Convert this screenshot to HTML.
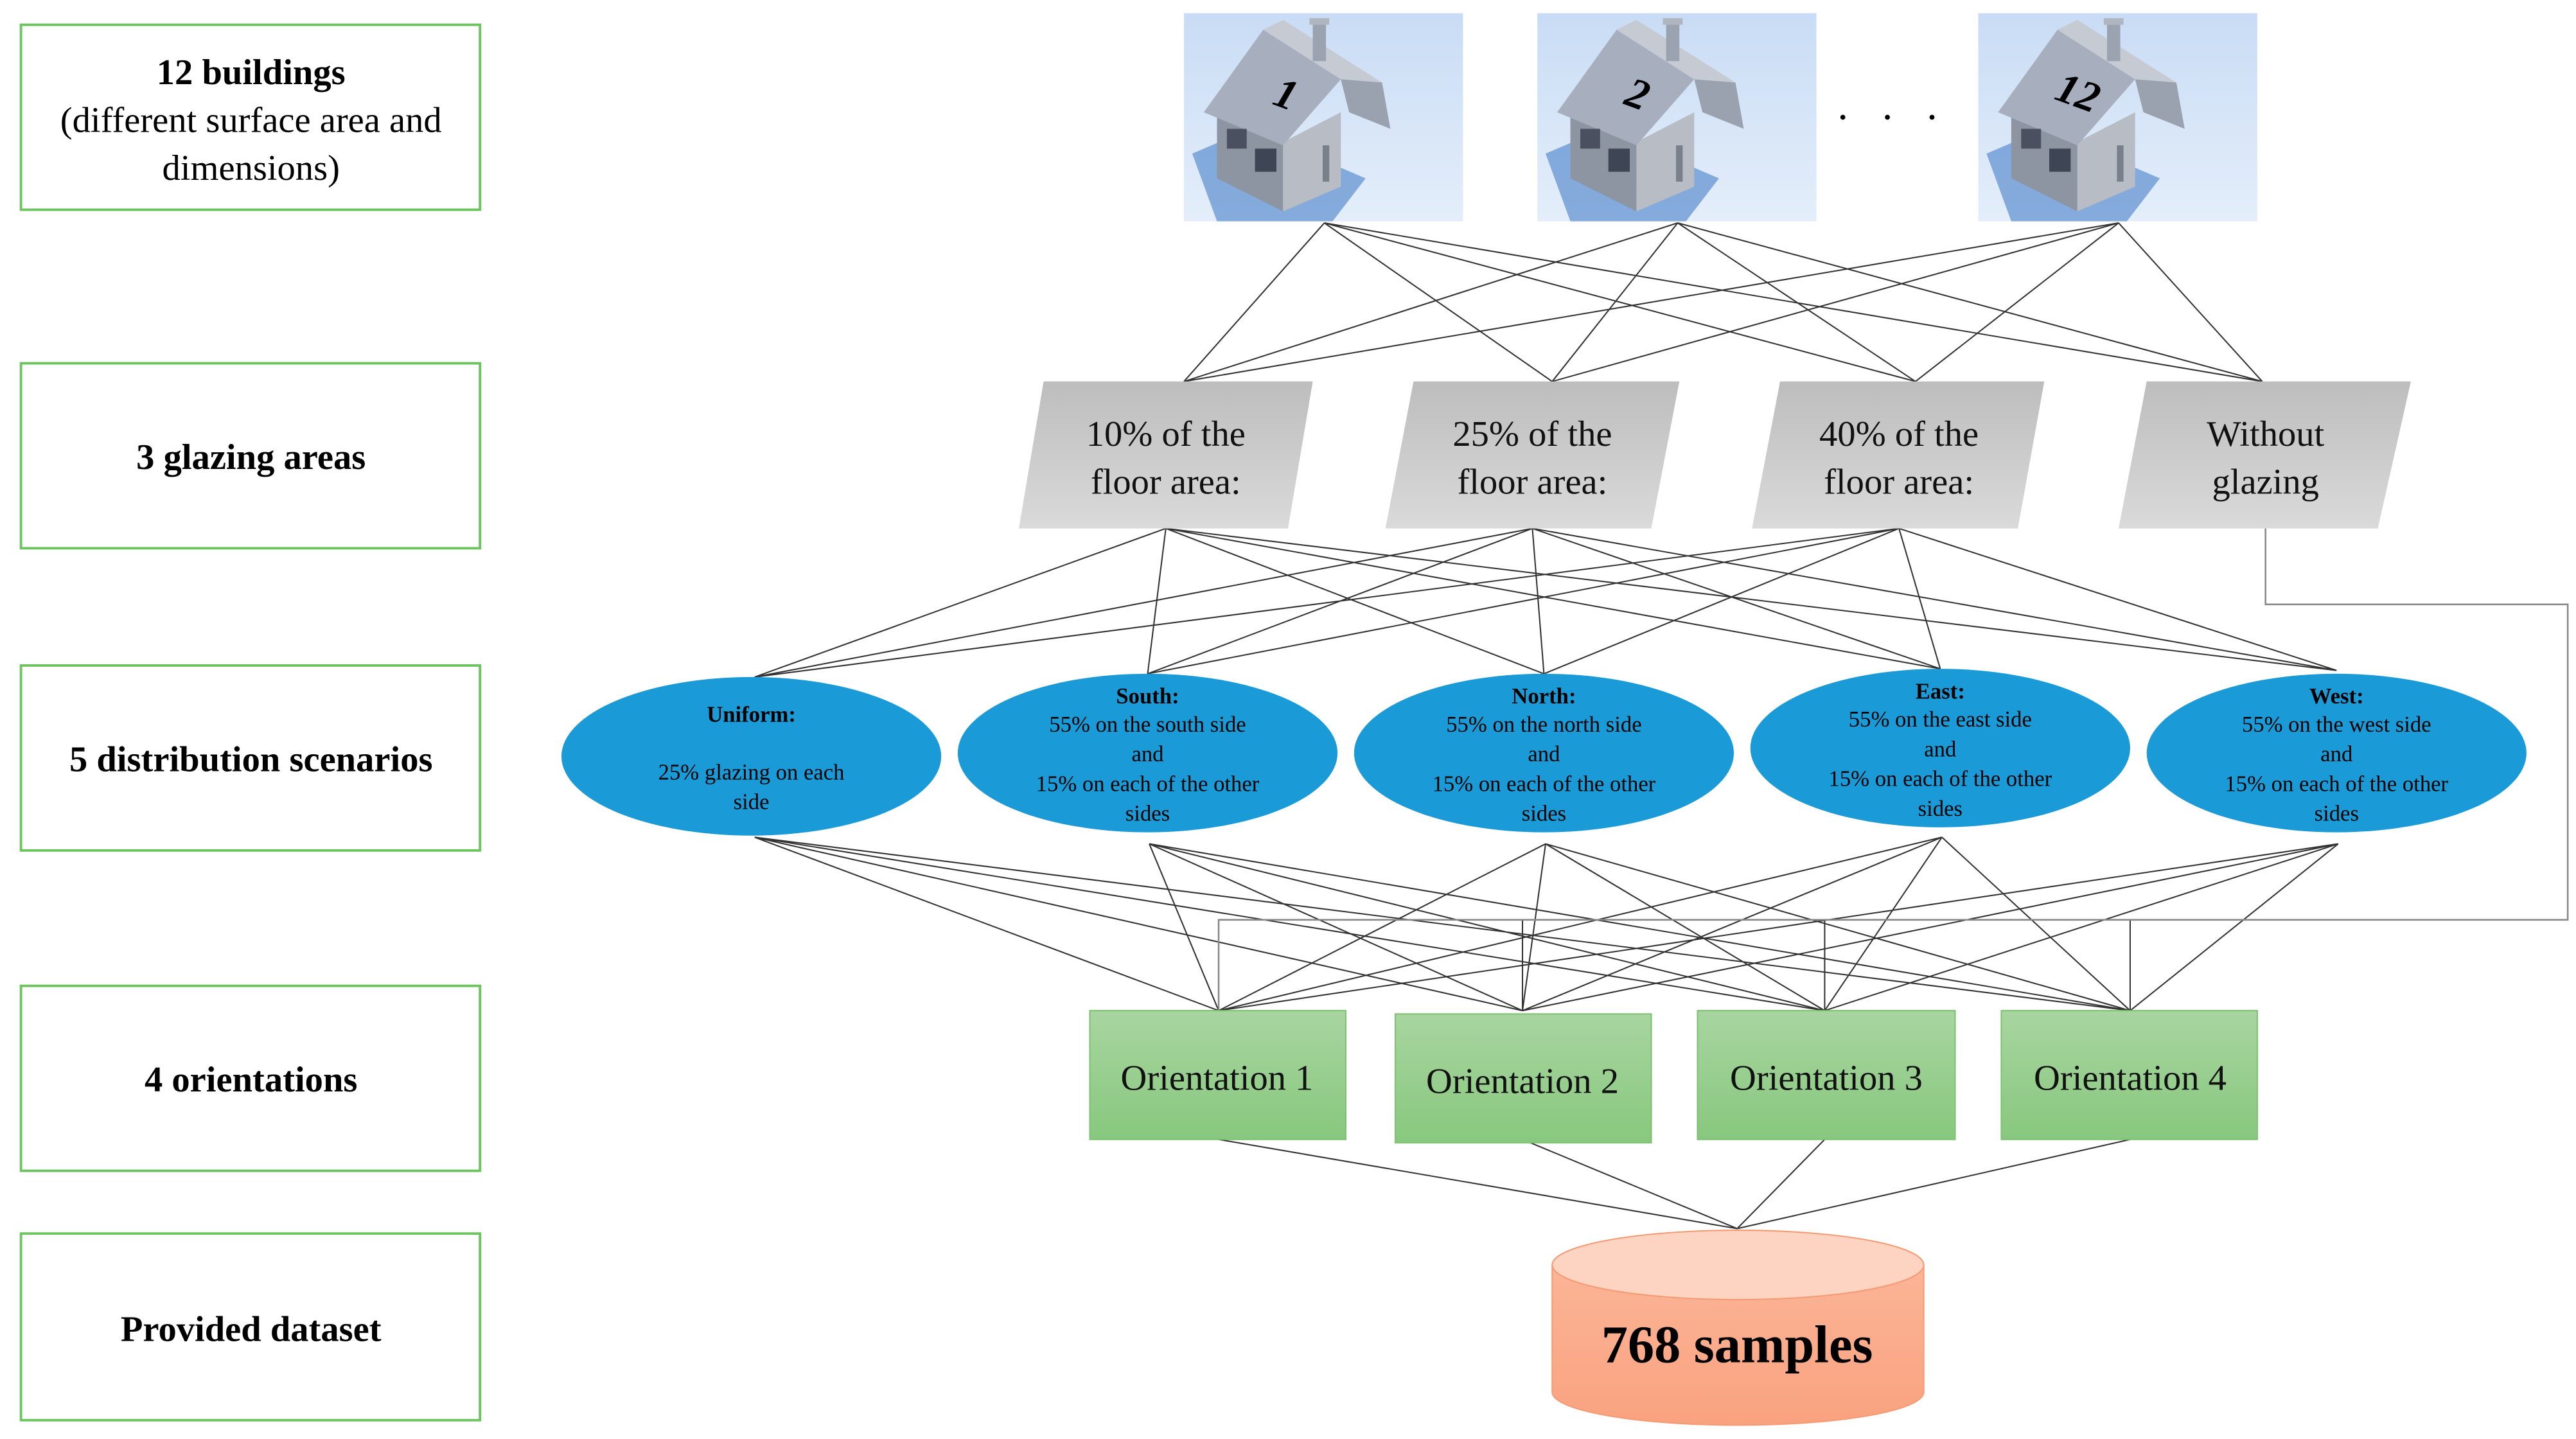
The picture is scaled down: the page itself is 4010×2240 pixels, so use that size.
<!DOCTYPE html>
<html><head><meta charset="utf-8"><style>
html,body{margin:0;padding:0;background:#fff;}
svg{display:block;}
text{font-family:"Liberation Serif",serif;}
</style></head><body>
<svg width="4010" height="2240" viewBox="0 0 1560 871.4" preserveAspectRatio="none" xmlns="http://www.w3.org/2000/svg">
<defs>
<linearGradient id="sky" x1="0" y1="0" x2="0" y2="1"><stop offset="0" stop-color="#c9dcf5"/><stop offset="1" stop-color="#e4eefa"/></linearGradient>
<linearGradient id="gray" x1="0" y1="0" x2="0" y2="1"><stop offset="0" stop-color="#bdbdbd"/><stop offset="1" stop-color="#dadada"/></linearGradient>
<linearGradient id="grn" x1="0" y1="0" x2="0" y2="1"><stop offset="0" stop-color="#a8d5a0"/><stop offset="1" stop-color="#88c87e"/></linearGradient>
<linearGradient id="cyl" x1="0" y1="0" x2="0" y2="1"><stop offset="0" stop-color="#fbb597"/><stop offset="1" stop-color="#f9a27f"/></linearGradient>
<g id="house">
<rect x="0" y="0" width="169" height="126" fill="url(#sky)"/>
<path d="M5 85 L40 70 L110 100 L90 126 L20 126 Z" fill="#5d8fd0" opacity="0.7"/>
<path d="M20 58 L20 100 L60 120 L60 78 Z" fill="#8d95a3"/>
<path d="M60 78 L60 120 L95 105 L95 60 Z" fill="#b8bcc4"/>
<path d="M12 60 L48 10 L95 40 L60 80 Z" fill="#a7afbe"/>
<path d="M48 10 L60 4 L120 42 L110 50 L95 40 Z" fill="#c5cad3"/>
<path d="M95 40 L120 42 L125 70 L100 60 Z" fill="#9aa2b0"/>
<rect x="78" y="5" width="8" height="24" fill="#9ba3b0"/>
<rect x="76" y="3" width="12" height="4" fill="#b0b6c0"/>
<rect x="26" y="70" width="12" height="12" fill="#4a5060"/>
<rect x="43" y="82" width="13" height="14" fill="#3e4555"/>
<rect x="84" y="80" width="4" height="22" fill="#7a808b"/>
</g>
</defs>

<!-- left boxes -->
<g fill="#fff" stroke="#6cc45e" stroke-width="1.5">
<rect x="12.7" y="15" width="278" height="112"/>
<rect x="12.7" y="220" width="278" height="112"/>
<rect x="12.7" y="403" width="278" height="112"/>
<rect x="12.7" y="597" width="278" height="112"/>
<rect x="12.7" y="747" width="278" height="113"/>
</g>
<g font-size="22" text-anchor="middle" fill="#000">
<text x="152" y="51" font-weight="bold">12 buildings</text>
<text x="152" y="80">(different surface area and</text>
<text x="152" y="109">dimensions)</text>
<text x="152" y="284" font-weight="bold">3 glazing areas</text>
<text x="152" y="467" font-weight="bold">5 distribution scenarios</text>
<text x="152" y="661" font-weight="bold">4 orientations</text>
<text x="152" y="812" font-weight="bold">Provided dataset</text>
</g>

<!-- houses -->
<use href="#house" x="717" y="8"/>
<use href="#house" x="931" y="8"/>
<use href="#house" x="1198" y="8"/>
<g font-size="26" font-weight="bold" font-style="italic" fill="#000">
<text x="772" y="66" transform="rotate(20 780 58)">1</text>
<text x="985" y="66" transform="rotate(20 993 58)">2</text>
<text x="1245" y="66" transform="rotate(20 1262 58)">12</text>
</g>
<g fill="#000"><circle cx="1116" cy="71" r="1.5"/><circle cx="1143" cy="71" r="1.5"/><circle cx="1170" cy="71" r="1.5"/></g>

<!-- connectors -->
<g stroke="#333" stroke-width="0.8" fill="none">
<!-- houses to glazing -->
<path d="M802 135L717 231M802 135L940 231M802 135L1160 231M802 135L1370 231
M1016 135L717 231M1016 135L940 231M1016 135L1160 231M1016 135L1370 231
M1283 135L717 231M1283 135L940 231M1283 135L1160 231M1283 135L1370 231"/>
<!-- glazing to ellipses -->
<path d="M706 320L457 410M706 320L695 408M706 320L935 408M706 320L1175 405M706 320L1415 406
M928 320L457 410M928 320L695 408M928 320L935 408M928 320L1175 405M928 320L1415 406
M1150 320L457 410M1150 320L695 408M1150 320L935 408M1150 320L1175 405M1150 320L1415 406"/>
<!-- ellipses to orientations -->
<path d="M457 507L738 612M457 507L922 612M457 507L1105 612M457 507L1290 612
M696 511L738 612M696 511L922 612M696 511L1105 612M696 511L1290 612
M936 511L738 612M936 511L922 612M936 511L1105 612M936 511L1290 612
M1176 507L738 612M1176 507L922 612M1176 507L1105 612M1176 507L1290 612
M1416 511L738 612M1416 511L922 612M1416 511L1105 612M1416 511L1290 612"/>
<!-- orientations to cylinder -->
<path d="M738 690L1052 744M922 690L1052 744M1105 690L1052 744M1290 690L1052 744"/>
<!-- vertical drops -->
<path d="M922 557V612M1105 557V612M1290 557V612"/>
</g>
<path d="M1372 320V366H1555V557H738V612" stroke="#888" stroke-width="1" fill="none"/>

<!-- glazing parallelograms -->
<g fill="url(#gray)">
<polygon points="632,231 795,231 780,320 617,320"/>
<polygon points="856,231 1017,231 1000,320 839,320"/>
<polygon points="1078,231 1238,231 1222,320 1061,320"/>
<polygon points="1300,231 1460,231 1440,320 1283,320"/>
</g>
<g font-size="22" text-anchor="middle" fill="#111">
<text x="706" y="270">10% of the</text><text x="706" y="299">floor area:</text>
<text x="928" y="270">25% of the</text><text x="928" y="299">floor area:</text>
<text x="1150" y="270">40% of the</text><text x="1150" y="299">floor area:</text>
<text x="1372" y="270">Without</text><text x="1372" y="299">glazing</text>
</g>

<!-- ellipses -->
<g fill="#1a9ad7">
<ellipse cx="455" cy="458" rx="115" ry="48"/>
<ellipse cx="695" cy="456" rx="115" ry="48"/>
<ellipse cx="935" cy="456" rx="115" ry="48"/>
<ellipse cx="1175" cy="453" rx="115" ry="48"/>
<ellipse cx="1415" cy="456" rx="115" ry="48"/>
</g>
<g font-size="13.5" text-anchor="middle" fill="#000">
<text x="455" y="437" font-weight="bold">Uniform:</text>
<text x="455" y="472">25% glazing on each</text>
<text x="455" y="490">side</text>
<text x="695" y="426" font-weight="bold">South:</text>
<text x="695" y="443">55% on the south side</text>
<text x="695" y="461">and</text>
<text x="695" y="479">15% on each of the other</text>
<text x="695" y="497">sides</text>
<text x="935" y="426" font-weight="bold">North:</text>
<text x="935" y="443">55% on the north side</text>
<text x="935" y="461">and</text>
<text x="935" y="479">15% on each of the other</text>
<text x="935" y="497">sides</text>
<text x="1175" y="423" font-weight="bold">East:</text>
<text x="1175" y="440">55% on the east side</text>
<text x="1175" y="458">and</text>
<text x="1175" y="476">15% on each of the other</text>
<text x="1175" y="494">sides</text>
<text x="1415" y="426" font-weight="bold">West:</text>
<text x="1415" y="443">55% on the west side</text>
<text x="1415" y="461">and</text>
<text x="1415" y="479">15% on each of the other</text>
<text x="1415" y="497">sides</text>
</g>

<!-- orientations -->
<g fill="url(#grn)" stroke="#7cc270" stroke-width="0.8">
<rect x="660" y="612" width="155" height="78"/>
<rect x="845" y="614" width="155" height="78"/>
<rect x="1028" y="612" width="156" height="78"/>
<rect x="1212" y="612" width="155" height="78"/>
</g>
<g font-size="22" text-anchor="middle" fill="#111">
<text x="737" y="660">Orientation 1</text>
<text x="922" y="662">Orientation 2</text>
<text x="1106" y="660">Orientation 3</text>
<text x="1290" y="660">Orientation 4</text>
</g>

<!-- cylinder -->
<path d="M940 766 V843 A112.5 20 0 0 0 1165 843 V766 Z" fill="url(#cyl)" stroke="#f59a72" stroke-width="0.8"/>
<ellipse cx="1052.5" cy="766" rx="112.5" ry="21" fill="#fdd3c2" stroke="#f59a72" stroke-width="0.8"/>
<text x="1052" y="825" font-size="32" font-weight="bold" text-anchor="middle" fill="#000">768 samples</text>
</svg>
</body></html>
